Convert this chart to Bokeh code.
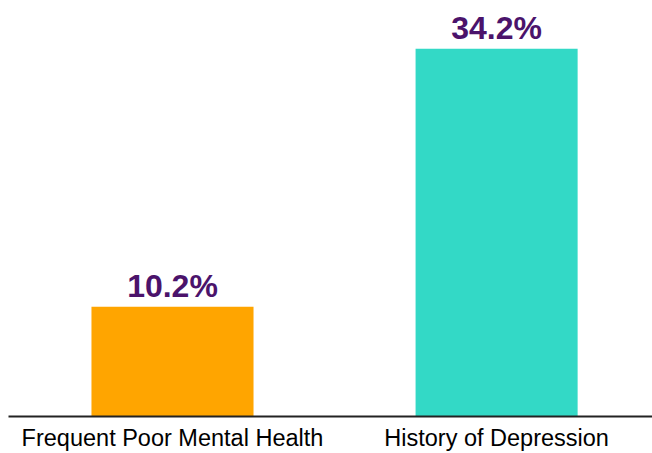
from bokeh.plotting import figure
from bokeh.models import ColumnDataSource, Range1d, FixedTicker
from bokeh.core.properties import value
from bokeh.embed import file_html
from bokeh.resources import INLINE

categories = ["Frequent Poor Mental Health", "History of Depression"]
values = [10.2, 34.2]
colors = ["#FFA500", "#33D9C6"]
labels = ["10.2%", "34.2%"]

xs = list(range(len(categories)))
src = ColumnDataSource(dict(x=xs, top=values, color=colors, label=labels))

p = figure(width=652, height=453, output_backend="svg", toolbar_location=None,
           x_range=Range1d(-0.506, 1.481), y_range=Range1d(0, 38.68),
           min_border_left=8, min_border_right=0, min_border_top=0, min_border_bottom=30)
p.outline_line_color = None
p.background_fill_color = "white"
p.border_fill_color = "white"
p.grid.visible = False
p.yaxis.visible = False

p.vbar(x="x", top="top", bottom=0, width=0.5, color="color", line_color=None, source=src)
p.text(x="x", y="top", text="label", source=src, y_offset=-3,
       text_align="center", text_baseline="bottom",
       text_font=value("Liberation Sans"), text_font_style="bold",
       text_font_size="32px", text_color="#4B136B")

ax = p.xaxis[0]
ax.ticker = FixedTicker(ticks=xs)
ax.major_label_overrides = {i: c for i, c in zip(xs, categories)}
ax.major_tick_line_color = None
ax.minor_tick_line_color = None
ax.major_tick_out = 0
ax.major_label_standoff = 8
ax.axis_line_color = "#222222"
ax.axis_line_width = 2
ax.major_label_text_font = "Liberation Sans"
ax.major_label_text_font_size = "23.5px"
ax.major_label_text_color = "#000000"

open("out.html", "w").write(file_html(p, INLINE))
